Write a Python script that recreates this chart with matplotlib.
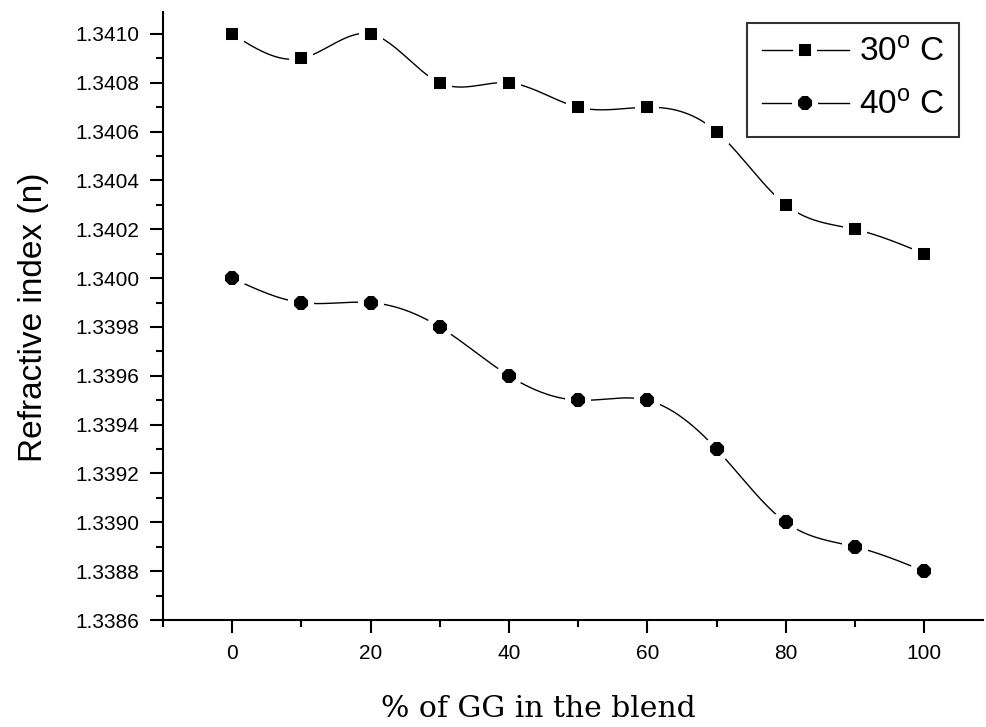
import numpy as np
import matplotlib
matplotlib.use("Agg")
import matplotlib.pyplot as plt
from matplotlib.ticker import MultipleLocator, FormatStrFormatter
from matplotlib.lines import Line2D

# ---- data ----
gg_percent = [0, 10, 20, 30, 40, 50, 60, 70, 80, 90, 100]
ri_30C = [1.3410, 1.3409, 1.3410, 1.3408, 1.3408, 1.3407, 1.3407, 1.3406, 1.3403, 1.3402, 1.3401]
ri_40C = [1.3400, 1.3399, 1.3399, 1.3398, 1.3396, 1.3395, 1.3395, 1.3393, 1.3390, 1.3389, 1.3388]
label_30 = r"30$^{\mathrm{o}}$ C"
label_40 = r"40$^{\mathrm{o}}$ C"
x_ticks = [0, 20, 40, 60, 80, 100]
y_ticks = [1.3386, 1.3388, 1.3390, 1.3392, 1.3394, 1.3396, 1.3398,
           1.3400, 1.3402, 1.3404, 1.3406, 1.3408, 1.3410]


def natural_spline(x, y, n=500):
    x = np.asarray(x, float)
    y = np.asarray(y, float)
    k = len(x)
    h = np.diff(x)
    A = np.zeros((k, k))
    b = np.zeros(k)
    A[0, 0] = 1
    A[-1, -1] = 1
    for i in range(1, k - 1):
        A[i, i - 1] = h[i - 1]
        A[i, i] = 2 * (h[i - 1] + h[i])
        A[i, i + 1] = h[i]
        b[i] = 6 * ((y[i + 1] - y[i]) / h[i] - (y[i] - y[i - 1]) / h[i - 1])
    M = np.linalg.solve(A, b)
    xs = np.linspace(x[0], x[-1], n)
    idx = np.clip(np.searchsorted(x, xs) - 1, 0, k - 2)
    x0, x1 = x[idx], x[idx + 1]
    hh = x1 - x0
    t0 = x1 - xs
    t1 = xs - x0
    ys = (M[idx] * t0**3 / (6 * hh) + M[idx + 1] * t1**3 / (6 * hh)
          + (y[idx] / hh - M[idx] * hh / 6) * t0
          + (y[idx + 1] / hh - M[idx + 1] * hh / 6) * t1)
    return xs, ys


plt.rcParams['font.family'] = ['Liberation Sans', 'DejaVu Sans']
plt.rcParams['mathtext.fontset'] = 'custom'
plt.rcParams['mathtext.rm'] = 'Liberation Sans'
plt.rcParams['mathtext.it'] = 'Liberation Sans'

fig = plt.figure(figsize=(9.86, 7.27), dpi=100)
ax = fig.add_axes([163 / 986, 1 - 620 / 727, (983 - 163) / 986, (620 - 12) / 727])

mew = 4.3
sizes = {'s': 13.5, '8': 15.5}
for xs_, ys_, mk in [(gg_percent, ri_30C, 's'), (gg_percent, ri_40C, '8')]:
    sx, sy = natural_spline(xs_, ys_)
    ax.plot(sx, sy, color='black', lw=1.0, zorder=2)
    ax.plot(xs_, ys_, linestyle='none', marker=mk, ms=sizes[mk], mfc='black',
            mec='white', mew=mew, zorder=3)

h30 = Line2D([], [], color='black', lw=1.0, marker='s', ms=sizes['s'],
             mfc='black', mec='white', mew=mew)
h40 = Line2D([], [], color='black', lw=1.0, marker='8', ms=sizes['8'],
             mfc='black', mec='white', mew=mew)
leg = ax.legend([h30, h40], [label_30, label_40], loc='upper right',
                bbox_to_anchor=(0.971, 0.982), borderaxespad=0, fontsize=24,
                frameon=True, fancybox=False, handlelength=2.6, handletextpad=0.3,
                labelspacing=0.65, borderpad=0.45, numpoints=1)
leg.get_frame().set_edgecolor('black')
leg.get_frame().set_linewidth(1.5)

ax.set_xlim(-10, 108.5)
ax.set_ylim(1.3386, 1.34109)
ax.set_xticks(x_ticks)
ax.set_yticks(y_ticks)
ax.xaxis.set_minor_locator(MultipleLocator(10))
ax.yaxis.set_minor_locator(MultipleLocator(0.0001))
ax.yaxis.set_major_formatter(FormatStrFormatter('%.4f'))

for s in ['top', 'right']:
    ax.spines[s].set_visible(False)
for s in ['left', 'bottom']:
    ax.spines[s].set_linewidth(1.5)

ax.tick_params(which='major', direction='out', length=9.5, width=1.5,
               labelsize=15, pad=7.5)
ax.tick_params(which='minor', direction='out', length=5, width=1.5)

fig.text(42 / 986, 1 - 317 / 727, "Refractive index (n)", rotation=90,
         rotation_mode='anchor', ha='center', va='baseline', fontsize=24,
         family='Liberation Sans')
fig.text(538 / 986, 1 - 717 / 727, "% of GG in the blend", ha='center',
         va='baseline', fontsize=21.5, family='DejaVu Serif')

fig.savefig("out.png", dpi=100)
